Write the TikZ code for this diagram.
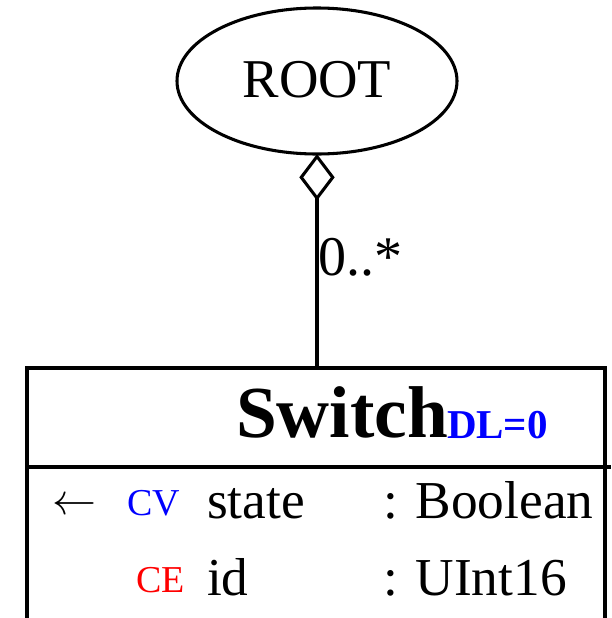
\documentclass[tikz,border=0pt]{standalone}
\usepackage{fix-cm}
\usepackage{fontspec}
\setmainfont{Liberation Serif}
\usetikzlibrary{shapes.geometric,arrows.meta}
\newcommand\setfs[1]{\fontsize{#1}{#1}\selectfont}
\definecolor{attrblue}{RGB}{0,0,255}
\definecolor{attrred}{RGB}{255,0,0}
\begin{document}
\begin{tikzpicture}[x=0.75pt,y=-0.75pt,
  txt/.style={inner sep=0pt, outer sep=0pt, anchor=base west},
  rootstyle/.style={ellipse, draw, line width=2.3pt, inner sep=0pt, outer sep=0pt,
    minimum width=210pt, minimum height=109.5pt},
  classbox/.style={rectangle, draw, line width=2.6pt, inner sep=0pt, outer sep=0pt,
    anchor=north west, minimum width=433.5pt},
  assoc/.style={line width=2.3pt, {Diamond[open,length=35pt,width=26.5pt]}-},
  big/.style={font=\setfs{55pt}\bfseries},
  dl/.style={font=\setfs{30.75pt}\bfseries, text=attrblue},
  attr/.style={font=\setfs{40pt}},
  tag/.style={font=\setfs{28.5pt}},
]
\clip (0,0) rectangle (611,618);
% root
\node[rootstyle] (root) at (317,81) {};
\node[txt, anchor=base, font=\setfs{41pt}] (roottext) at (317,97) {ROOT};
% class compartments
\node[classbox, minimum height=74.25pt] (header) at (27,368) {};
\node[classbox, minimum height=130pt] (attrs) at (27,467) {};
\coordinate (divend) at (611,467);
\draw[line width=2.6pt] (header.south east) -- (divend);
% association
\draw[assoc] (root.south) -- (root.south |- header.north);
\node[txt, font=\setfs{42pt}] (mult) at (318,275) {0..*};
% header text
\node[txt, big] (name) at (236,437) {Switch};
\node[txt, dl] (dlabel) at (447,438) {DL=0};
% attributes
\node[txt, font=\setfs{33pt}] (arrow) at (52,514) {$\leftarrow$};
\node[txt, tag, text=attrblue] (cv) at (127,515) {CV};
\node[txt, attr] (state) at (207,518) {state};
\node[txt, attr] (stype) at (383,518) {: Boolean};
\node[txt, tag, text=attrred] (ce) at (136,592) {CE};
\node[txt, attr] (id) at (207,595) {id};
\node[txt, attr] (itype) at (383,595) {: UInt16};
\end{tikzpicture}
\end{document}
